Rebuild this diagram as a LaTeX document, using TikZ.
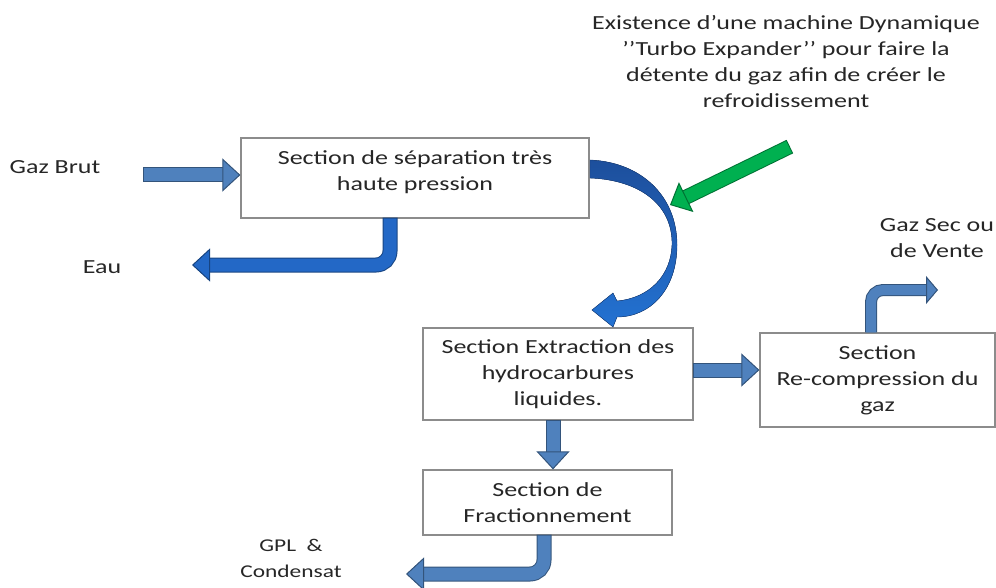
\documentclass[tikz,border=0pt]{standalone}
\usepackage{fontspec}
\setmainfont{Carlito}[FakeStretch=1.3]
\usetikzlibrary{arrows.meta}

\definecolor{steel}{HTML}{4F81BD}
\definecolor{brightblue}{HTML}{2368C6}
\definecolor{greenarrow}{HTML}{00B050}
\definecolor{boxline}{HTML}{8C8C8C}
\definecolor{textgray}{HTML}{262626}
\definecolor{curvetop}{HTML}{1D4F9C}
\definecolor{curvebottom}{HTML}{2372D2}

\tikzset{
  section/.style={draw=boxline, line width=1.2pt, fill=white, align=center, inner sep=0pt},
  blockarrow/.style={draw=#1, line width=13pt,
    -{Triangle[length=18pt, width=33pt, line width=1pt, color=#1!65!black, fill=#1]},
    preaction={draw=#1!65!black, line width=15pt, arrows=-, shorten >=8pt, shorten <=-1pt}},
  blockarrow/.default=steel,
  thinarrow/.style={draw=#1, line width=10pt,
    -{Triangle[length=12pt, width=28pt, line width=1pt, color=#1!65!black, fill=#1]},
    preaction={draw=#1!65!black, line width=12pt, arrows=-, shorten >=5pt}},
  thinarrow/.default=steel
}

\begin{document}
\begin{tikzpicture}[x=1pt, y=-1pt, font=\fontsize{20}{26}\selectfont, text=textgray]
\useasboundingbox (0,0) rectangle (996,588);

% boxes
\node (sep) [section, minimum width=348pt, minimum height=80pt, text depth=15pt] at (415,178) {Section de séparation très\\ haute pression};
\node (extr) [section, minimum width=270pt, minimum height=92pt] at (558,374) {Section Extraction des\\ hydrocarbures\\ liquides.};
\node (recomp) [section, minimum width=235pt, minimum height=94pt] at (877.5,380) {Section\\ Re-compression du\\ gaz};
\node (frac) [section, minimum width=249pt, minimum height=65pt] at (547.5,502.5) {Section de\\ Fractionnement};

% labels
\node (brutlabel) at (55,167) {Gaz Brut};
\node (eaulabel) at (102,267) {Eau};
\node (gpllabel) [align=center, font=\fontsize{18}{26}\selectfont] at (291,558) {GPL~~\&\\ Condensat};
\node (venteLabel) [align=center] at (937,238) {Gaz Sec ou\\ de Vente};
\node (turbo) [align=center] at (786,62) {Existence d’une machine Dynamique\\ ’’Turbo Expander’’ pour faire la\\ détente du gaz afin de créer le\\ refroidissement};

% free ends
\coordinate (brut) at (144,175);
\coordinate (eau) at (192,265);
\coordinate (gpl) at (406,574);
\coordinate (vente) at (938,290);
\coordinate (greentail) at (789,147);
\coordinate (greentip) at (670,205);

% block arrows
\draw[blockarrow] (brut) -- (brut -| sep.west);
\draw[blockarrow=brightblue, rounded corners=14pt] ([xshift=-25pt]sep.south) |- (eau);
\draw[blockarrow] ([yshift=4pt]extr.east) -- ([yshift=4pt]extr.east -| recomp.west);
\draw[blockarrow] ([xshift=-5pt]extr.south) -- ([xshift=-5pt]extr.south |- frac.north);
\draw[blockarrow, rounded corners=14pt] ([xshift=-3.5pt]frac.south) |- (gpl);
\draw[thinarrow, rounded corners=12pt] ([xshift=-6.5pt]recomp.north) |- (vente);

% curved arrow
\fill[top color=curvetop, bottom color=curvebottom, draw=curvetop!80!black, line width=0.4pt]
  (590,160) .. controls (640,162) and (677,195) .. (677,245)
  .. controls (677,290) and (650,317) .. (617,317)
  -- (613,327) -- (592,310) -- (613,293) -- (617,301)
  .. controls (650,298) and (671,275) .. (672,245)
  .. controls (673,205) and (640,180) .. (590,178) -- cycle;

\draw[blockarrow=greenarrow] (greentail) -- (greentip);
\end{tikzpicture}
\end{document}
